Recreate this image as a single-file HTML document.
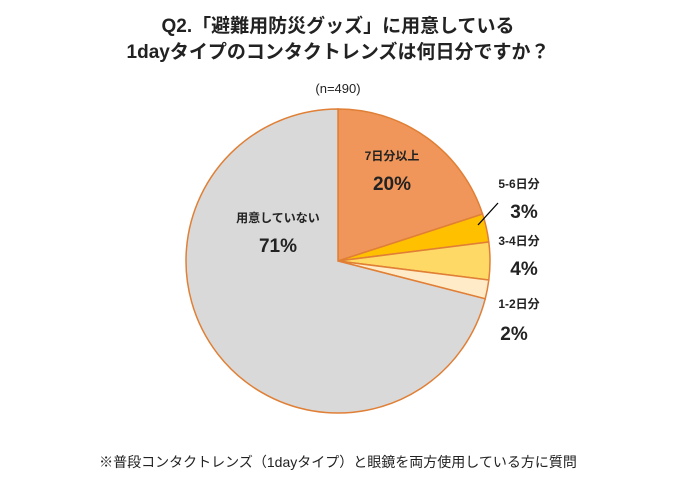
<!DOCTYPE html>
<html><head><meta charset="utf-8"><style>
html,body{margin:0;padding:0;background:#fff;}
body{width:677px;height:483px;overflow:hidden;font-family:"Liberation Sans","Noto Sans CJK JP",sans-serif;}
</style></head><body>
<svg id="chart" width="677" height="483" viewBox="0 0 677 483" xmlns="http://www.w3.org/2000/svg" font-family="'Liberation Sans','Noto Sans CJK JP',sans-serif">
<text x="338" y="32" text-anchor="middle" font-size="19" font-weight="bold" fill="#222">Q2.「避難用防災グッズ」に用意している</text>
<text x="338" y="58" text-anchor="middle" font-size="19" font-weight="bold" fill="#222">1dayタイプのコンタクトレンズは何日分ですか？</text>
<text x="338" y="93" text-anchor="middle" font-size="13" fill="#222">(n=490)</text>
<g id="slices"></g>
<g id="labels"></g>
<line x1="478" y1="225" x2="498" y2="203" stroke="#000" stroke-width="1.3"/>
<text x="338" y="467" text-anchor="middle" font-size="14" fill="#222">※普段コンタクトレンズ（1dayタイプ）と眼鏡を両方使用している方に質問</text>
</svg>
<script>
const categories = ["7日分以上", "5-6日分", "3-4日分", "1-2日分", "用意していない"];
const values = [20, 3, 4, 2, 71];
const colors = ["#F0965A", "#FFC000", "#FFD966", "#FFEBC8", "#D9D9D9"];
const labelPos = [[392,160,392,190],[519,188,524,218],[519,245,524,275],[519,308,514,340],[278,222,278,252]];
const cx = 338, cy = 261, r = 152;
const ns = "http://www.w3.org/2000/svg";
const total = values.reduce((a,b)=>a+b,0);
function pt(a){return [cx + r*Math.sin(a), cy - r*Math.cos(a)];}
let acc = 0;
const g = document.getElementById('slices');
const lg = document.getElementById('labels');
values.forEach((v,i)=>{
  const a0 = acc/total*2*Math.PI; acc += v; const a1 = acc/total*2*Math.PI;
  const p0 = pt(a0), p1 = pt(a1);
  const large = (a1-a0) > Math.PI ? 1 : 0;
  const path = document.createElementNS(ns,'path');
  path.setAttribute('d',`M${cx},${cy} L${p0[0]},${p0[1]} A${r},${r} 0 ${large} 1 ${p1[0]},${p1[1]} Z`);
  path.setAttribute('fill',colors[i]);
  path.setAttribute('stroke','#E07F35');
  path.setAttribute('stroke-width','1.5');
  
  
  g.appendChild(path);
  const lp = labelPos[i];
  const t1 = document.createElementNS(ns,'text');
  t1.setAttribute('x',lp[0]); t1.setAttribute('y',lp[1]);
  t1.setAttribute('text-anchor','middle'); t1.setAttribute('font-size','12'); t1.setAttribute('font-weight','bold'); t1.setAttribute('fill','#222');
  t1.textContent = categories[i];
  
  
  lg.appendChild(t1);
  const t2 = document.createElementNS(ns,'text');
  t2.setAttribute('x',lp[2]); t2.setAttribute('y',lp[3]);
  t2.setAttribute('text-anchor','middle'); t2.setAttribute('font-size','19'); t2.setAttribute('font-weight','bold'); t2.setAttribute('fill','#222');
  t2.textContent = v + '%';
  
  
  lg.appendChild(t2);
});
</script>
</body></html>
